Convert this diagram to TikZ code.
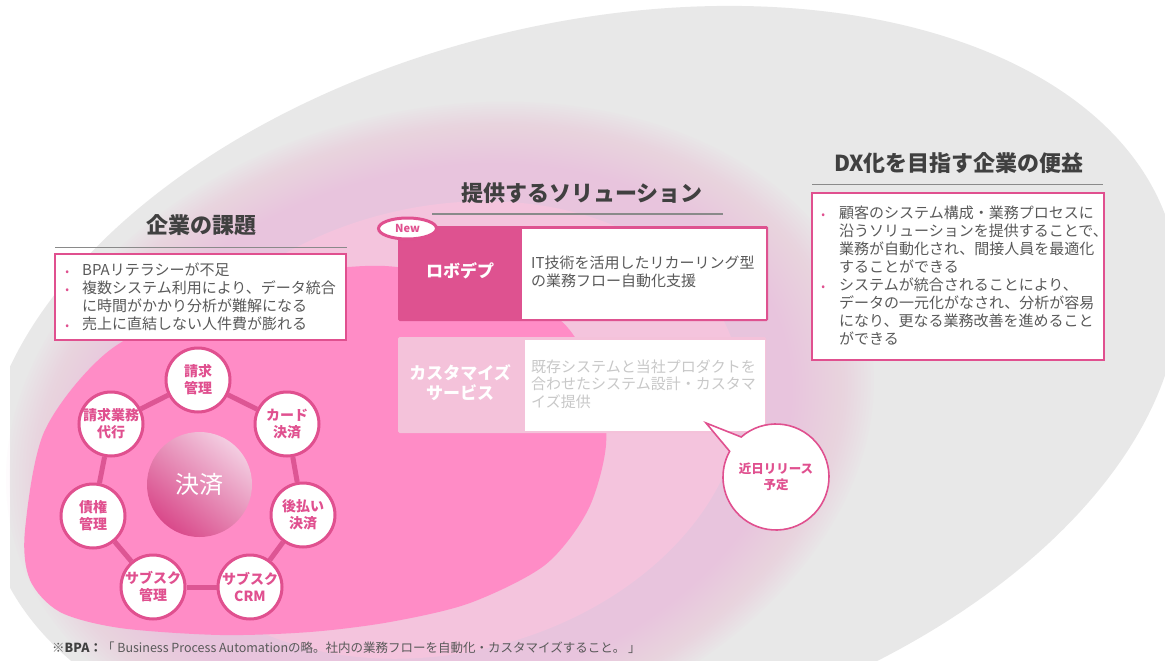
\documentclass[tikz,border=0pt]{standalone}
\usepackage{fontspec}
\setmainfont{Noto Sans CJK JP}
\usetikzlibrary{calc,shapes.geometric}
\definecolor{pk}{HTML}{E0508F}
\definecolor{dkpk}{HTML}{DE5290}
\definecolor{hotpk}{HTML}{FF8CC6}
\definecolor{glowc}{HTML}{F4C4DD}
\definecolor{grayc}{HTML}{E8E8E8}
\definecolor{custc}{HTML}{F4C2DA}
\definecolor{ttlc}{HTML}{404040}
\definecolor{bodyc}{HTML}{595959}
\definecolor{faintc}{HTML}{C8C8C8}
\definecolor{rulec}{HTML}{8A8A8A}
\definecolor{ringc}{HTML}{DD5694}
\definecolor{sphA}{HTML}{F3CDE1}
\definecolor{sphB}{HTML}{E274A9}
\definecolor{sphC}{HTML}{D9498A}
\newlength\bulw
\newcommand\mybul{\textcolor{pk}{\fontsize{11}{11}\selectfont •}}
\newcommand\bitem[1]{\hbox{\makebox[\bulw][c]{\mybul}#1}}
\newcommand\citem[1]{\hbox{\hspace*{\bulw}#1}}
\newcommand\plain[1]{\hbox{#1}}
\begin{document}
\begin{tikzpicture}[x=1pt,y=-1pt,
  sat/.style={circle, draw=pk, line width=3pt, fill=white, minimum size=64pt, inner sep=0pt, align=center, text=pk, font=\bfseries\fontsize{14}{17}\selectfont},
  ring/.style={draw=ringc, line width=5pt},
  ttl/.style={font=\bfseries\fontsize{22}{26}\selectfont, text=ttlc, inner sep=0pt},
  body/.style={font=\fontsize{15}{18}\selectfont, text=bodyc, inner sep=0pt, anchor=base west},
  rulel/.style={draw=rulec, line width=1.2pt},
  pbox/.style={draw=pk, line width=1.3pt, fill=white}
]
\useasboundingbox (0,0) rectangle (1165,661);
\fill[white] (0,0) rectangle (1165,661);
% gray ellipse
\begin{scope}
\clip (10,0) rectangle (1165,661);
\fill[grayc, rotate around={14:(581,387)}] (581,387) ellipse [x radius=610, y radius=362];
\end{scope}
% pink glow
\foreach \s in {1.0,0.9925,...,0.70}{
  \fill[glowc, opacity=0.06, rotate around={14:(440,430)}] (440,430) ellipse [x radius={440*\s}, y radius={320*\s}];
}
\fill[glowc, rotate around={14:(440,430)}] (440,430) ellipse [x radius=306, y radius=223];
% hot pink blob
\fill[hotpk] plot[smooth cycle] coordinates {(25,530) (30,580) (60,612) (120,628) (220,635) (310,632) (390,622) (470,603) (545,565) (588,510) (606,445) (598,385) (560,320) (470,282) (385,266) (300,273) (220,295) (110,350) (45,430)};

% titles and rules
\node[ttl] (t1) at (201,225) {企業の課題};
\draw[rulel] (55,247.5) -- (347,247.5);
\node[ttl] (t2) at (582,193) {提供するソリューション};
\draw[rulel] (432,214) -- (723,214);
\node[ttl] (t3) at (959,163) {DX化を目指す企業の便益};
\draw[rulel] (812,184.5) -- (1103,184.5);

% left box
\draw[pbox] (55,254) rectangle (346,340);
\node[body] (ltxt) at (52,275.7) {\setlength\bulw{30pt}\vtop{\baselineskip=18pt\lineskiplimit=-20pt
  \bitem{BPAリテラシーが不足}
  \bitem{複数システム利用により、データ統合}
  \citem{に時間がかかり分析が難解になる}
  \bitem{売上に直結しない人件費が膨れる}}};

% right box
\draw[pbox] (812,193) rectangle (1104,360);
\node[body] (rtxt) at (807,218.7) {\setlength\bulw{32pt}\vtop{\baselineskip=18pt\lineskiplimit=-20pt
  \bitem{顧客のシステム構成・業務プロセスに}
  \citem{沿うソリューションを提供することで、}
  \citem{業務が自動化され、間接人員を最適化}
  \citem{することができる}
  \bitem{システムが統合されることにより、}
  \citem{データの一元化がなされ、分析が容易}
  \citem{になり、更なる業務改善を進めること}
  \citem{ができる}}};

% robodepu
\fill[dkpk, rounded corners=1.5pt] (398,226) rectangle (768,321);
\fill[white] (522,228.5) rectangle (765.5,318.5);
\node[font=\bfseries\fontsize{17}{20}\selectfont, text=white, inner sep=0pt] (robo) at (460,271) {ロボデプ};
\node[body] (robotxt) at (531,268.7) {\vtop{\baselineskip=17.5pt\lineskiplimit=-20pt
  \plain{IT技術を活用したリカーリング型}
  \plain{の業務フロー自動化支援}}};
\node[ellipse, draw=pk, line width=3pt, fill=white, minimum width=58pt, minimum height=21pt, inner sep=0pt, text=pk, font=\bfseries\fontsize{11}{12}\selectfont] (new) at (407.5,228.5) {New};

% customize
\fill[custc, rounded corners=1.5pt] (398,337) rectangle (766,433);
\fill[white] (525,340) rectangle (765,431);
\node[font=\bfseries\fontsize{17}{20}\selectfont, text=white, inner sep=0pt, align=center] (cust) at (460,383) {カスタマイズ\\サービス};
\node[body, text=faintc] (custtxt) at (531,372.4) {\vtop{\baselineskip=17.5pt\lineskiplimit=-20pt
  \plain{既存システムと当社プロダクトを}
  \plain{合わせたシステム設計・カスタマ}
  \plain{イズ提供}}};

% bubble
\coordinate (bubc) at (776,477);
\coordinate (tip) at (706,423);
\draw[pk, line width=1.6pt, fill=white] (tip) -- ($(bubc)+(229:53)$) arc[start angle=229, end angle=569, radius=53] -- cycle;
\node[text=pk, font=\bfseries\fontsize{12.5}{16}\selectfont, align=center, inner sep=0pt] (bub) at (bubc) {近日リリース\\予定};

% payment ring
\node[circle, minimum size=105pt, inner sep=0pt, top color=sphA, middle color=sphB, bottom color=sphC, shading angle=-40, text=white, font=\fontsize{24}{28}\selectfont] (pay) at (199.5,484.5) {決済};
\node[sat] (s1) at (198,380) {請求\\管理};
\node[sat] (s2) at (287,424) {カード\\決済};
\node[sat] (s3) at (303,515) {後払い\\決済};
\node[sat] (s4) at (250,587) {サブスク\\CRM};
\node[sat] (s5) at (153,587) {サブスク\\管理};
\node[sat] (s6) at (93,516) {債権\\管理};
\node[sat] (s7) at (111,424) {請求業務\\代行};
\draw[ring] (s1) -- (s2);
\draw[ring] (s2) -- (s3);
\draw[ring] (s3) -- (s4);
\draw[ring] (s4) -- (s5);
\draw[ring] (s5) -- (s6);
\draw[ring] (s6) -- (s7);
\draw[ring] (s7) -- (s1);

% footnote
\node[anchor=base west, inner sep=0pt, text=bodyc, font=\fontsize{12.5}{14}\selectfont] (foot) at (52,652) {※\textcolor{ttlc}{\bfseries BPA：}「 Business Process Automationの略。社内の業務フローを自動化・カスタマイズすること。 」};
\end{tikzpicture}
\end{document}
